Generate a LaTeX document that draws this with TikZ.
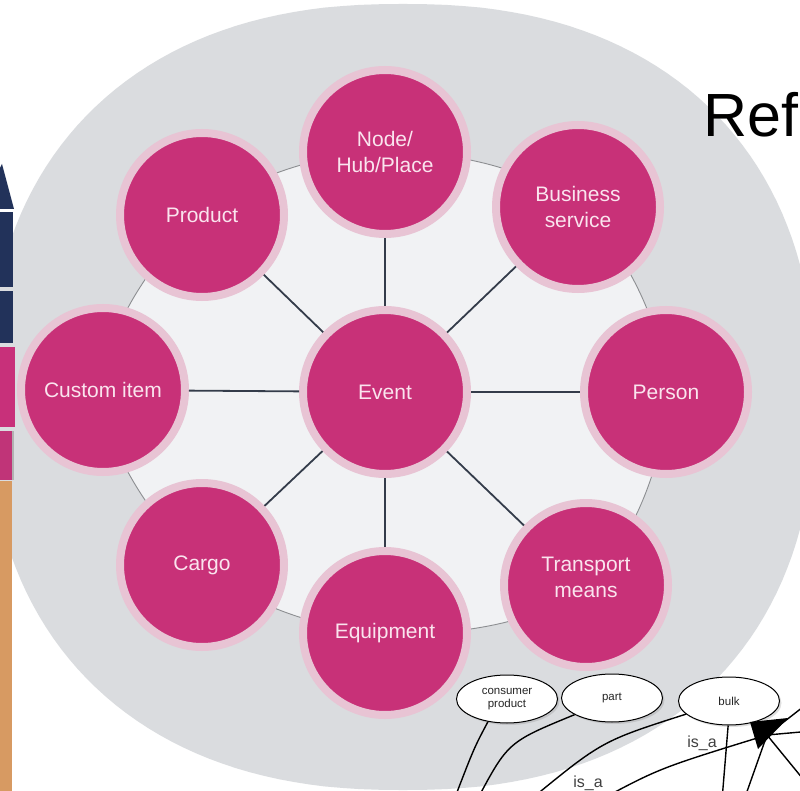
\documentclass[tikz,border=0pt]{standalone}
\usepackage{fontspec}
\setmainfont{Liberation Sans}
\usetikzlibrary{shapes.geometric,shadows}
\definecolor{bggray}{RGB}{218,220,223}
\definecolor{ringfill}{RGB}{241,242,244}
\definecolor{ringline}{RGB}{140,142,145}
\definecolor{hubpink}{RGB}{200,49,120}
\definecolor{halopink}{RGB}{232,196,212}
\definecolor{labelpink}{RGB}{250,228,238}
\definecolor{connslate}{RGB}{52,60,74}
\definecolor{stripnavy}{RGB}{34,50,90}
\definecolor{strippink}{RGB}{200,48,122}
\definecolor{strippinktwo}{RGB}{192,52,120}
\definecolor{striporange}{RGB}{215,154,98}
\def\sqexp{0.87}
\begin{document}
\begin{tikzpicture}[x=1pt,y=-1pt,
  hub/.style={circle, fill=hubpink, draw=halopink, line width=8pt, minimum size=164pt, inner sep=0pt, align=center, text=labelpink, font=\fontsize{21}{26}\selectfont},
  hubtext/.style={align=center, text=labelpink, font=\fontsize{21}{26}\selectfont, inner sep=0pt},
  conn/.style={draw=connslate, line width=1.8pt},
  ringpath/.style={draw=ringline, line width=0.9pt, fill=ringfill},
  cls/.style={ellipse, draw=black, line width=1pt, fill=white, minimum width=101pt, minimum height=48pt, inner sep=0pt, align=center, font=\fontsize{11.5}{13}\selectfont, text=black!85, drop shadow={opacity=0.25, shadow xshift=2pt, shadow yshift=-2pt}},
  isa/.style={draw=black, line width=1.4pt},
  isalabel/.style={font=\fontsize{16}{16}\selectfont, text=black!75, inner sep=0pt}
]
\useasboundingbox (0,0) rectangle (800,791);
\clip (0,0) rectangle (800,791);
\fill[white] (0,0) rectangle (800,791);

% background squircle
\fill[bggray] plot[domain=0.2:89.8,samples=45] ({403+412*cos(\x)^\sqexp},{397+393*sin(\x)^\sqexp})
  -- plot[domain=89.8:0.2,samples=45] ({403-415*cos(\x)^\sqexp},{397+393*sin(\x)^\sqexp})
  -- plot[domain=0.2:89.8,samples=45] ({403-415*cos(\x)^\sqexp},{397-393*sin(\x)^\sqexp})
  -- plot[domain=89.8:0.2,samples=45] ({403+412*cos(\x)^\sqexp},{397-393*sin(\x)^\sqexp})
  -- cycle;

% hub positions
\coordinate (p-ev) at (385,392);
\coordinate (p-nhp) at (385,152);
\coordinate (p-bs) at (578,207);
\coordinate (p-per) at (666,392);
\coordinate (p-tm) at (586,585);
\coordinate (p-eq) at (385,633);
\coordinate (p-cg) at (202,565);
\coordinate (p-ci) at (103,390);
\coordinate (p-pr) at (202,215);

% ring
\path[ringpath] plot[smooth cycle, tension=0.6] coordinates {(p-nhp) (p-bs) (p-per) (p-tm) (p-eq) (p-cg) (p-ci) (p-pr)};

% hubs
\node[hub] (ev) at (p-ev) {Event};
\node[hub] (nhp) at (p-nhp) {Node/\\Hub/Place};
\node[hub] (bs) at (p-bs) {Business\\service};
\node[hub] (per) at (p-per) {Person};
\node[hub, label={[hubtext, name=tmtext, yshift=8pt]center:Transport\\means}] (tm) at (p-tm) {};
\node[hub] (eq) at (p-eq) {Equipment};
\node[hub] (cg) at (p-cg) {Cargo};
\node[hub] (ci) at (p-ci) {Custom item};
\node[hub] (pr) at (p-pr) {Product};

% spokes
\foreach \t in {nhp,bs,per,tm,eq,cg,ci,pr}
  \draw[conn] (ev) -- (\t);

% left strip (edge of another picture)
\fill[stripnavy] (0,168) -- (2,164) -- (14,209) -- (0,209) -- cycle;
\fill[stripnavy] (0,212) rectangle (13,287);
\fill[stripnavy] (0,291) rectangle (13,343);
\fill[strippink] (0,347) rectangle (15,427);
\fill[strippinktwo] (0,431) rectangle (13,480);
\fill[gray!60] (12,431) rectangle (14,480);
\fill[striporange] (0,481) rectangle (12,791);

% title fragment
\node[anchor=base west, inner sep=0pt, font=\fontsize{61}{61}\selectfont] (ref) at (703,137) {Ref};

% overlaid graph fragment
\node[cls] (cp) at (507,699) {consumer\\product};
\node[cls] (pt) at (612,698) {part};
\node[cls] (bk) at (729,701) {bulk};

\coordinate (e1) at (454,800);
\coordinate (e2) at (477,800);
\coordinate (e3) at (530,800);
\coordinate (e4) at (722,800);
\coordinate (e5) at (600,800);
\coordinate (hd) at (767,735);
\coordinate (r1) at (812,700);
\coordinate (r2) at (812,731);
\coordinate (r3) at (812,790);
\coordinate (r4) at (744,800);

\draw[isa] (cp.-130) .. controls (474,748) .. (e1);
\draw[isa] (pt.-156) .. controls (508,742) .. (e2);
\draw[isa] (bk.-163) .. controls (602,741) .. (e3);
\draw[isa] (bk.-92) -- (e4);
\draw[isa] (e5) .. controls (660,768) .. (hd);
\draw[isa] (hd) -- (r1);
\draw[isa] (hd) -- (r2);
\draw[isa] (hd) -- (r3);
\draw[isa] (hd) -- (r4);
\fill[black] (750,722) -- (788,718) -- (758,749) -- cycle;

\node[isalabel] (isa1) at (702,743) {is\_a};
\node[isalabel] (isa2) at (588,783) {is\_a};
\end{tikzpicture}
\end{document}
